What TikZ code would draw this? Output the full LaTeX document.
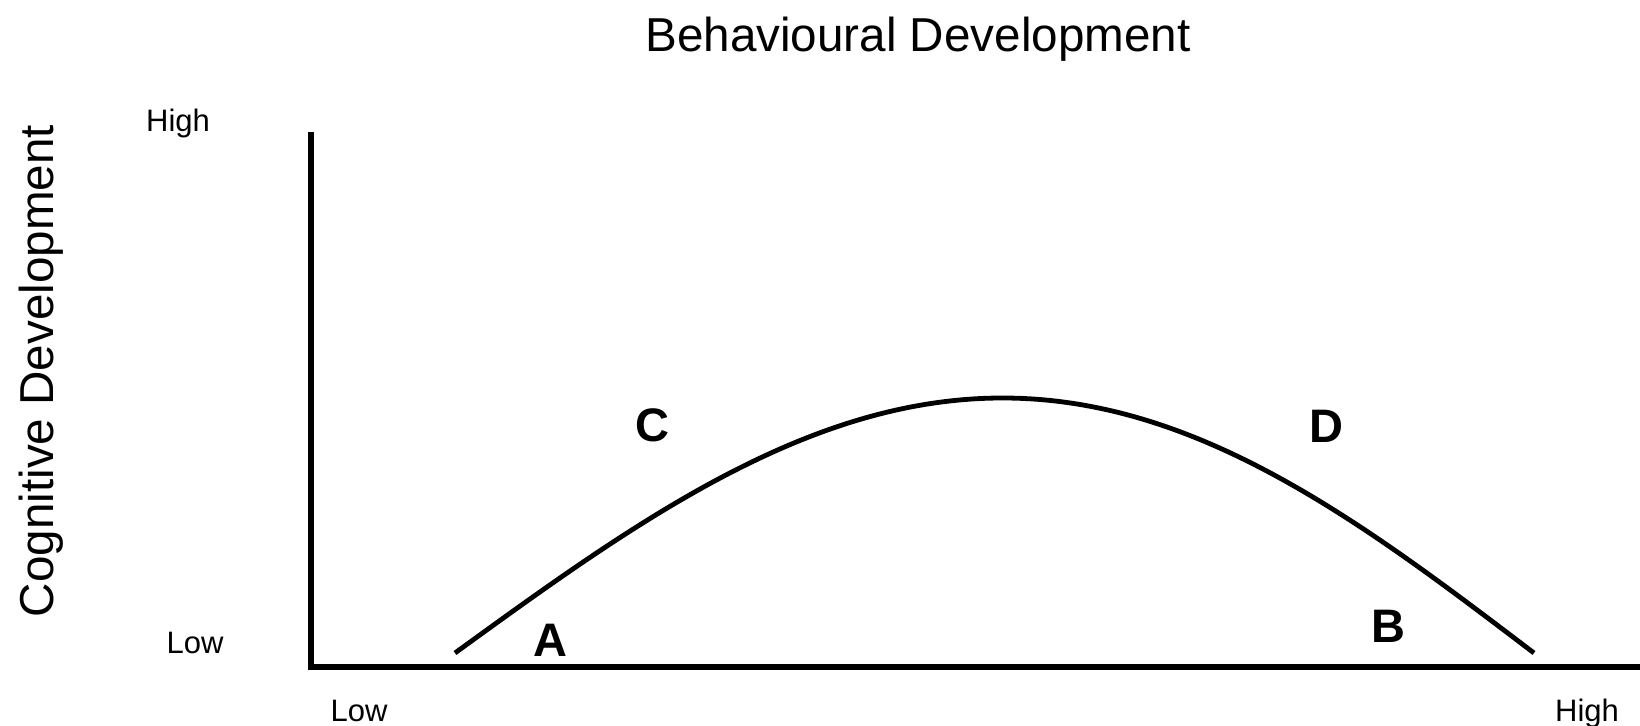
\documentclass[tikz,border=0pt]{standalone}
\usepackage{fontspec}
\setmainfont{Liberation Sans}
\usepackage{tikz}
\tikzstyle{heading}=[anchor=base, inner sep=0pt, font=\fontsize{23.8pt}{28pt}\selectfont]
\tikzstyle{level}=[anchor=base, inner sep=0pt, font=\fontsize{15.5pt}{18pt}\selectfont]
\tikzstyle{region}=[anchor=base, inner sep=0pt, font=\fontsize{23.5pt}{28pt}\selectfont\bfseries]

\begin{document}
\begin{tikzpicture}[x=0.5pt, y=-0.5pt]
    \useasboundingbox (0,0) rectangle (1640,726);
    \coordinate (ytop) at (311,132);
    \coordinate (origin) at (311,667);
    \coordinate (xend) at (1640,667);
    \draw[line width=2.8pt] (ytop) -- (origin) -- (xend);
    \draw[line width=2.4pt] plot[domain=0:180, samples=90, smooth] ({455+5.9944*\x+8*sin(\x)}, {653-255*sin(\x)});
    \node[heading] (title) at (918,52) {Behavioural Development};
    \node[heading, rotate=90] (ylab) at (54,371) {Cognitive Development};
    \node[level] (yhigh) at (178,132) {High};
    \node[level] (ylow) at (195,654) {Low};
    \node[level] (xlow) at (359,722) {Low};
    \node[level] (xhigh) at (1587,722) {High};
    \node[region] (a) at (550,657) {A};
    \node[region] (b) at (1388,643) {B};
    \node[region] (c) at (652,442) {C};
    \node[region] (d) at (1326,443) {D};
\end{tikzpicture}
\end{document}
